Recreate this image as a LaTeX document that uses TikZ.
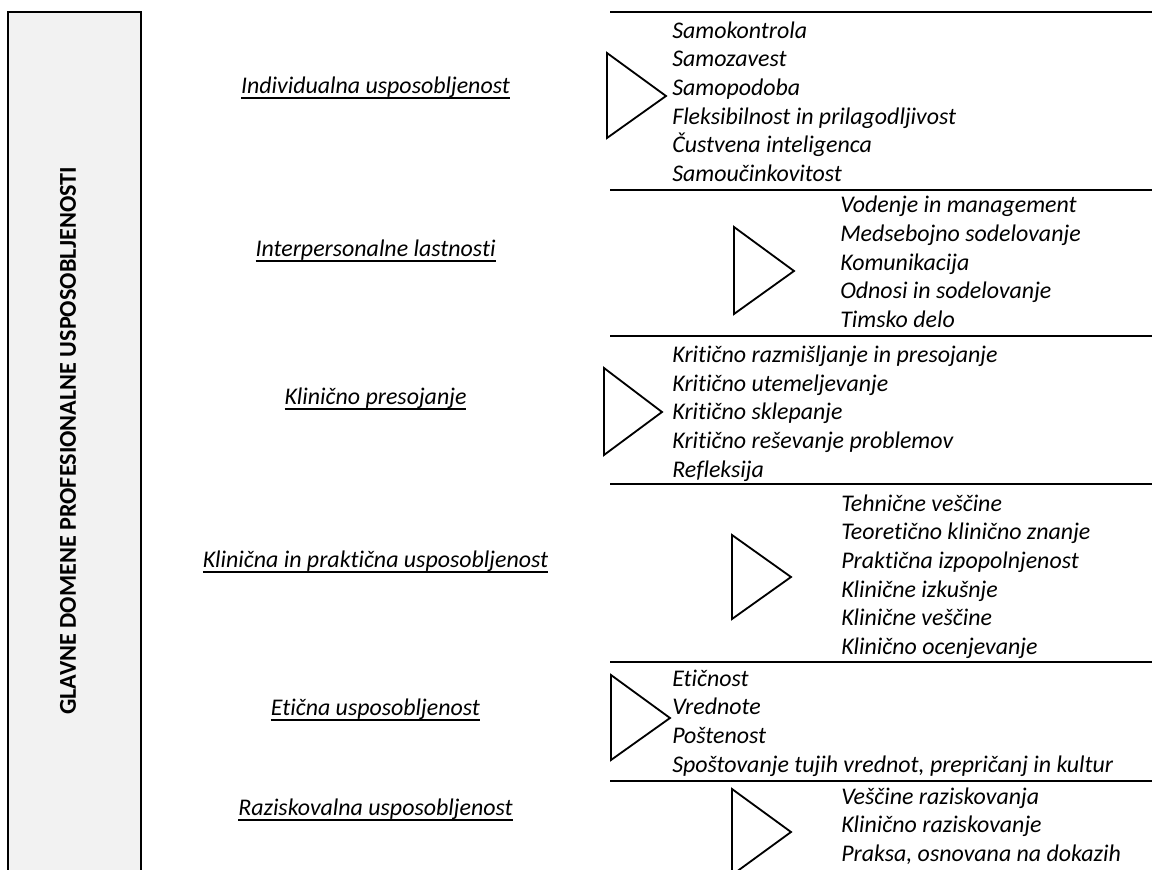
\documentclass[tikz,border=0pt]{standalone}
\usepackage{fontspec}
\setmainfont{Carlito}[Ligatures=NoCommon]
\definecolor{titlefill}{RGB}{242, 242, 242}
\definecolor{linecolor}{RGB}{0, 0, 0}
\definecolor{labelcolor}{RGB}{0, 0, 0}
% underline that sits on the baseline like in Word
\newcommand{\ulbox}[1]{\setbox0\hbox{#1}\rlap{\rule[-4.1pt]{\wd0}{1.3pt}}\box0}
\tikzset{
domainbox/.style={
  draw=linecolor,
  fill=titlefill,
  line width=1.3pt
},
titletext/.style={
  font=\fontsize{17.2}{20}\selectfont\bfseries,
  text=labelcolor,
  rotate=90,
  inner sep=0pt
},
domaintext/.style={
  font=\fontsize{17}{20}\selectfont\itshape,
  text=labelcolor,
  anchor=base,
  inner sep=0pt
},
itemlist/.style={
  align=left,
  anchor=west,
  inner sep=0pt,
  font=\fontsize{17}{20.4}\selectfont\itshape,
  text=labelcolor
},
divider/.style={
  draw=linecolor,
  line width=1.3pt
},
pointer/.style={
  draw=linecolor,
  line width=1.3pt,
  line join=miter
}
}
\begin{document}
\begin{tikzpicture}[x=0.025cm, y=-0.025cm]
    \useasboundingbox (0,0) rectangle (1152,869);

    % Title column
    \draw[domainbox] (8,885) -- (8,12) -- (141,12) -- (141,885);
    \node[titletext] (title) at (68,441) {GLAVNE DOMENE PROFESIONALNE USPOSOBLJENOSTI};

    % Domains
    \node[domaintext] (indiv) at (375.5,93.5) {\ulbox{Individualna usposobljenost}};
    \node[domaintext] (inter) at (375.5,256.5) {\ulbox{Interpersonalne lastnosti}};
    \node[domaintext] (presoj) at (375.5,404.5) {\ulbox{Klinično presojanje}};
    \node[domaintext] (prakt) at (375.5,567.5) {\ulbox{Klinična in praktična usposobljenost}};
    \node[domaintext] (etic) at (375.5,715.5) {\ulbox{Etična usposobljenost}};
    \node[domaintext] (razisk) at (375.5,815.5) {\ulbox{Raziskovalna usposobljenost}};

    % Dividers
    \draw[divider] (610,12) -- (1152,12);
    \draw[divider] (610,190) -- (1152,190);
    \draw[divider] (610,336) -- (1152,336);
    \draw[divider] (610,484) -- (1152,484);
    \draw[divider] (610,662) -- (1152,662);
    \draw[divider] (610,781) -- (1152,781);

    % Triangles
    \draw[pointer] (607,53) -- (666,96) -- (607,138) -- cycle;
    \draw[pointer] (734,227) -- (794,271) -- (734,314) -- cycle;
    \draw[pointer] (604,368) -- (662,412) -- (604,455) -- cycle;
    \draw[pointer] (732,535) -- (791,577) -- (732,619) -- cycle;
    \draw[pointer] (611,675) -- (670,718) -- (611,760) -- cycle;
    \draw[pointer] (732,789) -- (791,832) -- (732,875) -- cycle;

    % Item lists
    \node[itemlist] (indivlist) at (672,104) {\strut Samokontrola\\\strut Samozavest\\\strut Samopodoba\\\strut Fleksibilnost in prilagodljivost\\\strut Čustvena inteligenca\\\strut Samoučinkovitost};
    \node[itemlist] (interlist) at (840,264.5) {\strut Vodenje in management\\\strut Medsebojno sodelovanje\\\strut Komunikacija\\\strut Odnosi in sodelovanje\\\strut Timsko delo};
    \node[itemlist] (presojlist) at (672,414) {\strut Kritično razmišljanje in presojanje\\\strut Kritično utemeljevanje\\\strut Kritično sklepanje\\\strut Kritično reševanje problemov\\\strut Refleksija};
    \node[itemlist] (praktlist) at (841,577) {\strut Tehnične veščine\\\strut Teoretično klinično znanje\\\strut Praktična izpopolnjenost\\\strut Klinične izkušnje\\\strut Klinične veščine\\\strut Klinično ocenjevanje};
    \node[itemlist] (eticlist) at (672,723.5) {\strut Etičnost\\\strut Vrednote\\\strut Poštenost\\\strut Spoštovanje tujih vrednot, prepričanj in kultur};
    \node[itemlist] (razisklist) at (841,827) {\strut Veščine raziskovanja\\\strut Klinično raziskovanje\\\strut Praksa, osnovana na dokazih};

  \end{tikzpicture}
\end{document}
